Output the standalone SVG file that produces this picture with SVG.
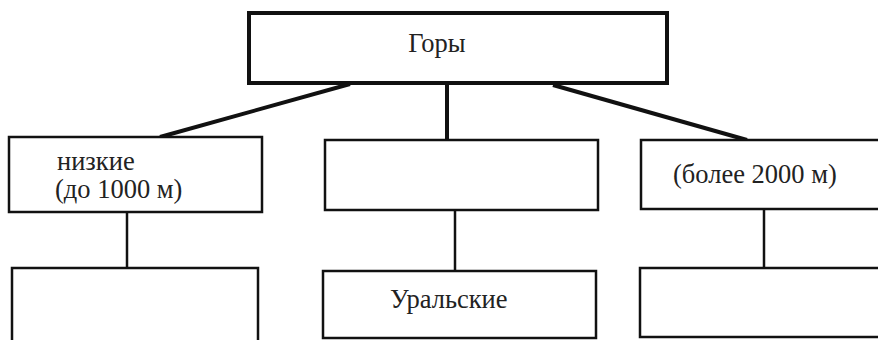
<svg xmlns="http://www.w3.org/2000/svg" width="878" height="340" viewBox="0 0 878 340">
<style>
.box{fill:#fff;stroke:#111;stroke-width:2.5}
.top{fill:#fff;stroke:#111;stroke-width:4}
.t{font-family:"Liberation Serif","Times New Roman",serif;font-size:26.5px;fill:#222}
.c{stroke:#111;fill:none}
</style>
<rect width="878" height="340" fill="#fff"/>
<g id="connectors">
<line class="c" x1="350" y1="84" x2="160" y2="137" stroke-width="4"/>
<line class="c" x1="447" y1="84" x2="447" y2="140" stroke-width="4"/>
<line class="c" x1="553" y1="85" x2="747" y2="140" stroke-width="4"/>
<line class="c" x1="127" y1="212" x2="127" y2="268" stroke-width="2.5"/>
<line class="c" x1="455" y1="210" x2="455" y2="271" stroke-width="2.5"/>
<line class="c" x1="764" y1="209" x2="764" y2="268" stroke-width="2.5"/>
</g>
<g id="gory">
<rect class="top" x="249" y="13" width="418" height="70"/>
<text class="t" x="437" y="52" text-anchor="middle" font-size="29">Горы</text>
</g>
<g id="nizkie">
<rect class="box" x="9" y="137" width="253" height="75"/>
<text class="t" x="57" y="170">низкие</text>
<text class="t" x="55" y="198">(до 1000 м)</text>
</g>
<g id="srednie">
<rect class="box" x="325" y="140" width="273" height="70"/>
</g>
<g id="vysokie">
<rect class="box" x="641" y="140" width="250" height="69"/>
<text class="t" x="673" y="183">(более 2000 м)</text>
</g>
<g id="primer1">
<rect class="box" x="12" y="268" width="246" height="80"/>
</g>
<g id="uralskie">
<rect class="box" x="323" y="271" width="273" height="67"/>
<text class="t" x="390" y="308">Уральские</text>
</g>
<g id="primer3">
<rect class="box" x="640" y="268" width="250" height="69"/>
</g>
</svg>
